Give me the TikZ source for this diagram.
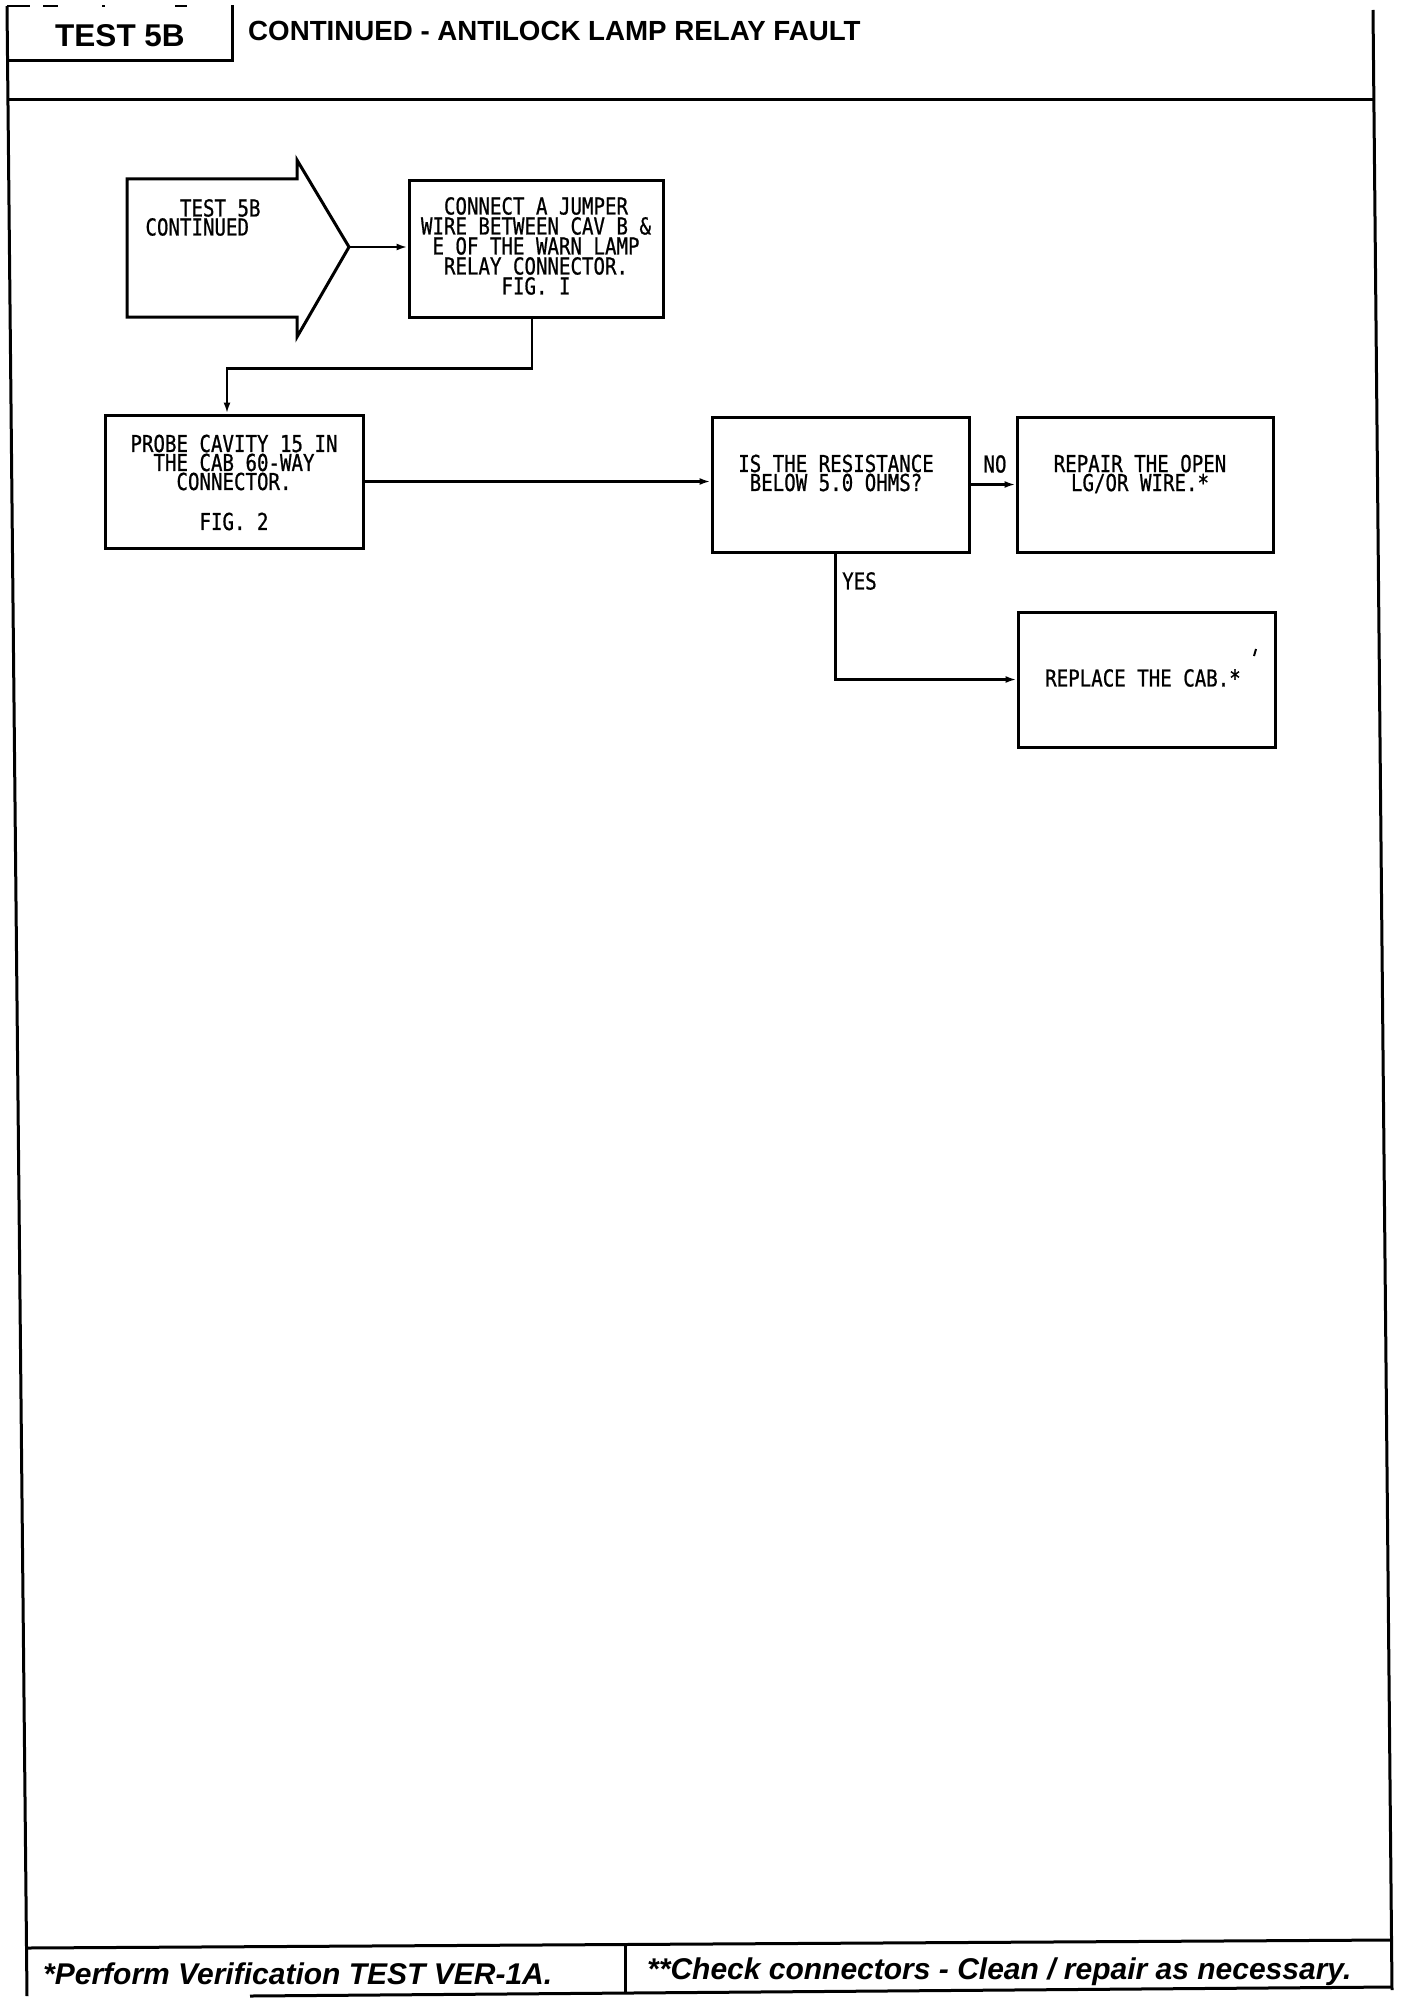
\documentclass[tikz,border=0pt]{standalone}
\usepackage{fontspec}
\setmainfont{Liberation Sans}
\newfontfamily\plotfont[FakeStretch=0.82,FakeBold=0.8]{DejaVu Sans Mono}
\newcommand\pfont{\plotfont\fontsize{23.3pt}{19pt}\selectfont}
\newcommand\pfontw{\plotfont\fontsize{23.3pt}{20pt}\selectfont}
\usetikzlibrary{arrows.meta,calc}
\begin{document}
\lineskiplimit=-50pt
\begin{tikzpicture}[x=1pt,y=-1pt,
  frame/.style={line width=3pt},
  box/.style={draw,line width=3pt,inner sep=0pt},
  conn/.style={line width=2.8pt},
  arr/.style={conn,-{Latex[length=11pt,width=7pt]}},
  plot/.style={font=\pfont, align=center, inner sep=0pt},
  lbl/.style={font=\pfont, inner sep=0pt},
  head/.style={inner sep=0pt, font=\bfseries\fontsize{27.7pt}{27.7pt}\selectfont},
  foot/.style={inner sep=0pt, font=\bfseries\itshape\fontsize{30pt}{30pt}\selectfont}
]
\useasboundingbox (0,0) rectangle (1408,2004);

% page frame
\draw[frame] (7,6) -- (27,1996);
\draw[frame] (1373,10) -- (1392,1990);
\draw[frame] (7,100) -- (1373,100);
\draw[frame] (7,61) -- (232,61) -- (232,5);
\draw[line width=2.5pt] (7,6) -- (30,6) (43,6) -- (58,6) (102,6) -- (105,6) (175,6) -- (187,6);
\draw[frame] (27,1948) -- (1390,1940);
\draw[frame] (250,1996) -- (1392,1987);
\draw[frame] (625,1945) -- (625,1993);

% header texts
\node[inner sep=0pt, anchor=base, font=\bfseries\fontsize{31.5pt}{31.5pt}\selectfont] (test) at (120,47) {TEST 5B};
\node[head, anchor=base west] (title) at (248,41) {CONTINUED - ANTILOCK LAMP RELAY FAULT};

% footer texts
\node[foot, anchor=base west] (f1) at (43,1984) {*Perform Verification TEST VER-1A.};
\node[foot, anchor=base west] (f2) at (647,1979) {**Check connectors - Clean / repair as necessary.};

% start arrow
\draw[line width=3pt, line join=miter] (127,179) -- (297,179) -- (297,160) -- (349,247) -- (297,337) -- (297,317) -- (127,317) -- cycle;
\coordinate (tip) at (349,247);
\node[plot, align=left] (starttxt) at (203,217.5) {\phantom{CON}TEST 5B\\CONTINUED};

% boxes
\node[box, minimum width=254pt, minimum height=136pt] (box2) at (536,249) {};
\node[box, minimum width=258pt, minimum height=133pt] (probe) at (234,481.5) {};
\node[box, minimum width=257pt, minimum height=135pt] (dec) at (840.5,484.5) {};
\node[box, minimum width=256pt, minimum height=135pt] (rep) at (1145,484.5) {};
\node[box, minimum width=257pt, minimum height=135pt] (repl) at (1146.5,679.5) {};

% box texts
\node[plot, font=\pfontw] (t2) at (536,246) {CONNECT A JUMPER\\WIRE BETWEEN CAV B \&\\E OF THE WARN LAMP\\RELAY CONNECTOR.\\FIG. I};
\node[plot] (tp) at (234,482.5) {PROBE CAVITY 15 IN\\THE CAB 60-WAY\\CONNECTOR.\\[21pt]FIG. 2};
\node[plot] (td) at (836,473) {IS THE RESISTANCE\\BELOW 5.0 OHMS?};
\node[plot] (tr) at (1140,474) {REPAIR THE OPEN\\LG/OR WIRE.*};
\node[plot] (tc) at (1143,678) {REPLACE THE CAB.*};

% connectors
\draw[arr] (tip) -- (tip -| box2.west);
\draw[arr] ([xshift=-4pt]box2.south) -- ++(0,50) -| ([xshift=-7pt]probe.north);
\draw[arr] (probe.east) -- (probe.east -| dec.west);
\draw[arr] (dec.east) -- (rep.west);
\node[lbl] (no) at (995,464) {NO};
\draw[arr] ([xshift=-5pt]dec.south) |- (repl.west);
\node[lbl, anchor=west] (yes) at (842,581) {YES};

% stray pen mark
\draw[line width=2pt] (1256,649) -- (1254,656);
\end{tikzpicture}
\end{document}
